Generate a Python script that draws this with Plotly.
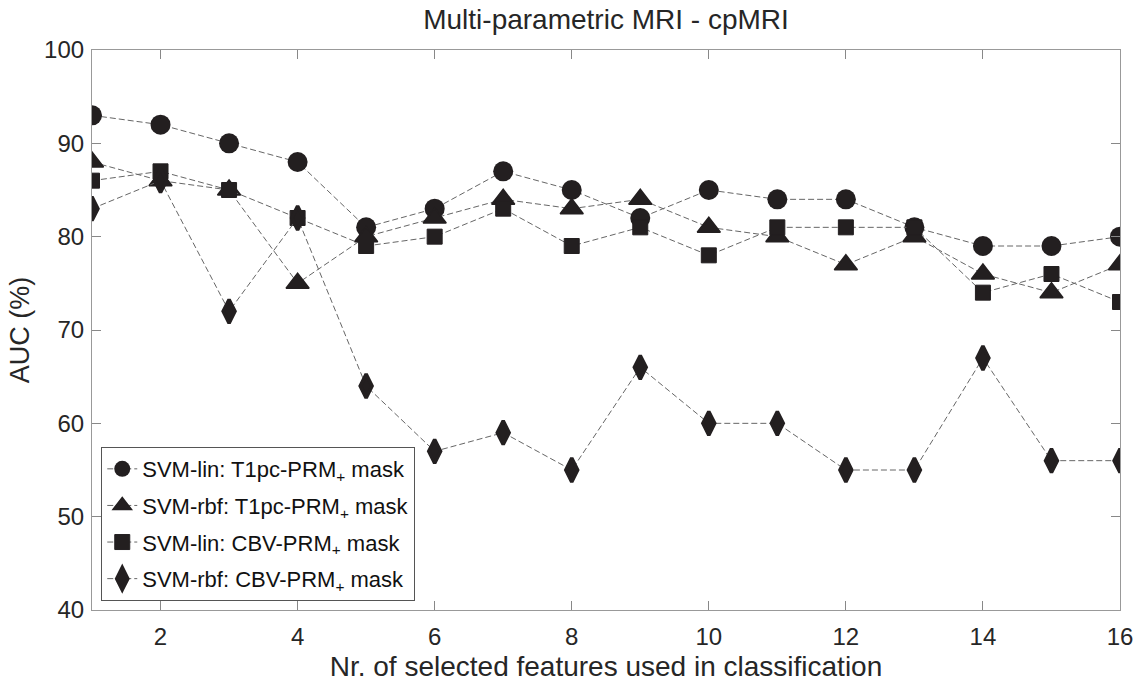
import plotly.graph_objects as go

features = list(range(1, 17))
svm_lin_t1pc = [93, 92, 90, 88, 81, 83, 87, 85, 82, 85, 84, 84, 81, 79, 79, 80]
svm_rbf_t1pc = [88, 86, 85, 75, 80, 82, 84, 83, 84, 81, 80, 77, 80, 76, 74, 77]
svm_lin_cbv = [86, 87, 85, 82, 79, 80, 83, 79, 81, 78, 81, 81, 81, 74, 76, 73]
svm_rbf_cbv = [83, 86, 72, 82, 64, 57, 59, 55, 66, 60, 60, 55, 55, 67, 56, 56]

x_ticks = [2, 4, 6, 8, 10, 12, 14, 16]
y_ticks = [40, 50, 60, 70, 80, 90, 100]

names = [
    "SVM-lin: T1pc-PRM<sub>+</sub> mask",
    "SVM-rbf: T1pc-PRM<sub>+</sub> mask",
    "SVM-lin: CBV-PRM<sub>+</sub> mask",
    "SVM-rbf: CBV-PRM<sub>+</sub> mask",
]
series = [svm_lin_t1pc, svm_rbf_t1pc, svm_lin_cbv, svm_rbf_cbv]
symbols = ["circle", "triangle-up", "square", "diamond-tall"]
sizes = [20, 20, 15, 17]
lws = [0, 1.5, 1, 3.5]

fig = go.Figure()
for i, (name, vals, sym, sz, lw) in enumerate(zip(names, series, symbols, sizes, lws)):
    fig.add_trace(go.Scatter(
        x=features, y=vals, name=name, mode="lines+markers",
        legendgroup=f"g{i}",
        line=dict(color="#666666", width=1, dash="6px,3px"),
        marker=dict(symbol=sym, size=sz, color="#231f20",
                    line=dict(width=lw, color="#231f20")),
    ))

axis_common = dict(
    showline=True, mirror="ticks", linecolor="#999999", linewidth=1.2,
    ticks="inside", ticklen=9, tickcolor="#888888", tickwidth=1,
    showgrid=False, zeroline=False, automargin=False,
    tickfont=dict(size=24, color="#262626"),
)

fig.update_layout(
    width=1135, height=682,
    margin=dict(l=92, r=15, t=50, b=72, autoexpand=False),
    paper_bgcolor="white", plot_bgcolor="white",
    font=dict(family="Liberation Sans, Arial, sans-serif", color="#262626"),
    title=dict(text="Multi-parametric MRI - cpMRI", x=0.5, xanchor="center",
               xref="paper", yref="container",
               y=1 - 19 / 682, yanchor="middle", font=dict(size=28)),
    xaxis=dict(range=[1, 16], tickvals=x_ticks, ticklabelstandoff=5,
               title=dict(text="Nr. of selected features used in classification",
                          font=dict(size=28), standoff=14),
               **axis_common),
    yaxis=dict(range=[40, 100], tickvals=y_ticks, ticklabelstandoff=2,
               title=dict(text="AUC (%)", font=dict(size=27), standoff=6),
               **axis_common),
    legend=dict(x=0.009, y=0.016, xanchor="left", yanchor="bottom",
                bgcolor="white", bordercolor="#555555", borderwidth=1,
                font=dict(size=22, color="#111111"), itemwidth=30,
                tracegroupgap=5),
    showlegend=True,
)

fig.write_html(
    "out.html",
    config={"displayModeBar": False},
    post_script="document.body.style.margin='0';document.body.style.overflow='hidden';",
)
